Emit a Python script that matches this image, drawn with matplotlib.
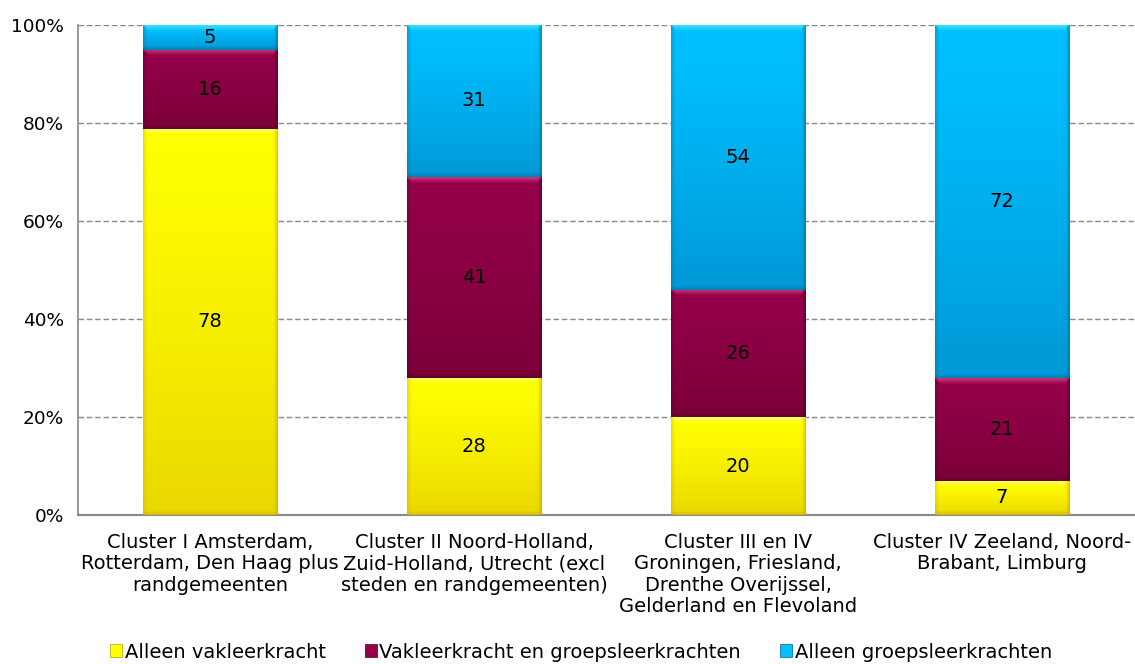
import numpy as np
import matplotlib
matplotlib.use("Agg")
import matplotlib.pyplot as plt
from matplotlib.patches import Patch
from matplotlib.colors import to_rgb

categories = [
    "Cluster I Amsterdam,\nRotterdam, Den Haag plus\nrandgemeenten",
    "Cluster II Noord-Holland,\nZuid-Holland, Utrecht (excl\nsteden en randgemeenten)",
    "Cluster III en IV\nGroningen, Friesland,\nDrenthe Overijssel,\nGelderland en Flevoland",
    "Cluster IV Zeeland, Noord-\nBrabant, Limburg",
]
series_names = ["Alleen vakleerkracht", "Vakleerkracht en groepsleerkrachten", "Alleen groepsleerkrachten"]
alleen_vak = [78, 28, 20, 7]
vak_en_groep = [16, 41, 26, 21]
alleen_groep = [5, 31, 54, 72]
ytick_labels = ["0%", "20%", "40%", "60%", "80%", "100%"]

# (top, bottom, highlight, edge) colours per series
palettes = [
    ("#FFFF00", "#EAD800", "#FFFF80", "#B8A000"),
    ("#94004A", "#7A0038", "#D8407E", "#4E0020"),
    ("#00C0FF", "#0098D6", "#40E6FF", "#00638E"),
]
base_colors = ["#FFFF00", "#8C0040", "#00B0F0"]

plt.rcParams['font.family'] = ['DejaVu Sans']
fig = plt.figure(figsize=(11.35, 6.64), dpi=100)
ax = fig.add_axes([78 / 1135, (664 - 515) / 664, 1056 / 1135, 490 / 664])

data = np.array([alleen_vak, vak_en_groep, alleen_groep], dtype=float)
totals = data.sum(axis=0)
pct = data / totals * 100
x = np.arange(len(categories))
width = 0.51

ax.set_xlim(-0.5, len(categories) - 0.5)
ax.set_ylim(0, 100)

def bevel(top, bot, hi, edge, w_px, h_px):
    top = np.array(to_rgb(top)); bot = np.array(to_rgb(bot))
    hi = np.array(to_rgb(hi)); edge = np.array(to_rgb(edge))
    ny = max(int(round(h_px)), 4); nx = max(int(round(w_px)), 4)
    t = np.linspace(0, 1, ny)[:, None, None] ** 1.3
    img = top * (1 - t) + bot * t
    img = np.repeat(img, nx, axis=1)
    yy = np.repeat(np.arange(ny)[:, None], nx, axis=1)
    xx = np.repeat(np.arange(nx)[None, :], ny, axis=0)
    band = 6
    m = (yy < band) & (xx >= yy) & (xx < nx - yy)
    f = (1 - yy / band) * 0.8
    img[m] = img[m] * (1 - f[m][:, None]) + hi * f[m][:, None]
    nb = 4
    mb = (yy >= ny - nb)
    fb = ((yy - (ny - nb) + 1) / nb) * 0.45
    img[mb] = img[mb] * (1 - fb[mb][:, None]) + edge * fb[mb][:, None]
    for k in range(4):
        fe = 0.5 * (1 - k / 4)
        img[:, k] = img[:, k] * (1 - fe * 0.6) + edge * fe * 0.6
        img[:, nx - 1 - k] = img[:, nx - 1 - k] * (1 - fe) + edge * fe
    return np.clip(img, 0, 1)

bottoms = np.zeros(len(categories))
for i in range(3):
    bars = ax.bar(x, pct[i], width, bottom=bottoms, color=base_colors[i],
                  edgecolor="#BBBBBB", linewidth=0.6, linestyle=":", zorder=2,
                  label=series_names[i])
    for j, b in enumerate(bars):
        bx, by, bw, bh = b.get_x(), b.get_y(), b.get_width(), b.get_height()
        p0 = ax.transData.transform((bx, by)); p1 = ax.transData.transform((bx + bw, by + bh))
        img = bevel(*palettes[i], p1[0] - p0[0], p1[1] - p0[1])
        ax.imshow(img, extent=[bx, bx + bw, by, by + bh], aspect="auto",
                  origin="upper", zorder=3, interpolation="bilinear")
        ax.text(bx + bw / 2, by + bh / 2, f"{int(data[i, j])}", ha="center", va="center",
                fontsize=14, color="black", zorder=5)
    bottoms += pct[i]

ax.set_xlim(-0.5, len(categories) - 0.5)
ax.set_ylim(0, 100)
ax.set_yticks([0, 20, 40, 60, 80, 100])
ax.set_yticklabels(ytick_labels, fontsize=13.3)
ax.set_xticks(x)
ax.set_xticklabels(categories, fontsize=14, linespacing=1.15)
ax.tick_params(axis="y", length=0, pad=10)
ax.tick_params(axis="x", length=0, pad=13)
ax.yaxis.grid(True, linestyle=(0, (4, 2)), color="#888888", linewidth=1)
ax.set_axisbelow(True)
for s in ["top", "right"]:
    ax.spines[s].set_visible(False)
ax.spines["left"].set_color("#888888")
ax.spines["bottom"].set_color("#888888")
ax.spines["left"].set_linewidth(1.2)
ax.spines["bottom"].set_linewidth(1.5)

handles = [Patch(facecolor=palettes[i][0], edgecolor=palettes[i][3], linewidth=0.5) for i in range(3)]
fig.legend(handles, series_names, loc="center", bbox_to_anchor=(0.512, 12 / 664),
           ncol=3, frameon=False, fontsize=14, handlelength=0.6, handleheight=0.6,
           handletextpad=0.15, columnspacing=2.0)

fig.savefig("out.png", dpi=100)
